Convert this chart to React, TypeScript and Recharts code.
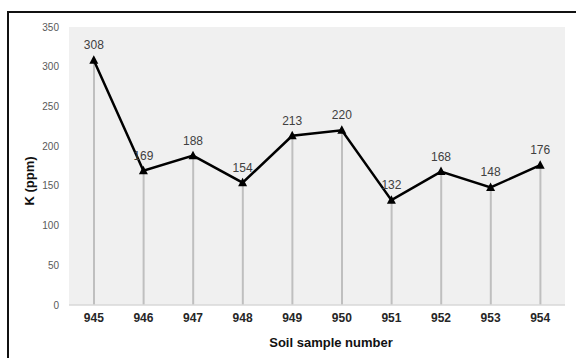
import {
  Bar,
  CartesianGrid,
  ComposedChart,
  Label,
  LabelList,
  Line,
  XAxis,
  YAxis,
} from "recharts";

const samples = ["945", "946", "947", "948", "949", "950", "951", "952", "953", "954"];
const potassium = [308, 169, 188, 154, 213, 220, 132, 168, 148, 176];
const yTicks = [0, 50, 100, 150, 200, 250, 300, 350];

const data = samples.map((sample, i) => ({ sample, k: potassium[i] }));

const FONT = "'Liberation Sans', Arial, sans-serif";

function Triangle(props: { cx?: number; cy?: number; index?: number }) {
  const { cx, cy, index } = props;
  if (cx == null || cy == null) return null;
  return (
    <path
      key={`tri-${index}`}
      d={`M${cx},${cy - 5} L${cx + 4.5},${cy + 3.5} L${cx - 4.5},${cy + 3.5} Z`}
      fill="#000"
    />
  );
}

export default function App() {
  return (
    <div
      style={{
        position: "absolute",
        left: 0,
        top: 0,
        width: 576,
        height: 358,
        overflow: "hidden",
        background: "#fff",
      }}
    >
      <div
        style={{
          position: "absolute",
          left: 7,
          top: 11,
          width: 600,
          height: 400,
          borderTop: "2px solid #111",
          borderLeft: "2px solid #111",
        }}
      />
      <ComposedChart
        width={576}
        height={358}
        data={data}
        margin={{ top: 27, right: 11, left: 0, bottom: 0 }}
        style={{ position: "absolute", left: 0, top: 0 }}
      >
        {/* shaded plot area, no grid lines */}
        <CartesianGrid
          fill="#f0f0f0"
          fillOpacity={1}
          horizontal={false}
          vertical={false}
        />
        <XAxis
          dataKey="sample"
          height={53}
          tickLine={false}
          axisLine={{ stroke: "#d9d9d9", strokeWidth: 1.5 }}
          tick={{ fontSize: 12, fontWeight: 700, fill: "#262626", fontFamily: FONT }}
        >
          <Label
            content={({ viewBox }: any) => (
              <text
                x={viewBox.x + viewBox.width / 2 + 14}
                y={viewBox.y + 42}
                textAnchor="middle"
                fontSize={13}
                fontWeight={700}
                fill="#111"
                fontFamily={FONT}
              >
                Soil sample number
              </text>
            )}
          />
        </XAxis>
        <YAxis
          width={69}
          domain={[0, 350]}
          ticks={yTicks}
          tickLine={false}
          axisLine={false}
          tickMargin={4}
          tick={{ fontSize: 10, fill: "#595959", fontFamily: FONT }}
        >
          <Label
            content={({ viewBox }: any) => {
              const x = viewBox.x + 29;
              const y = viewBox.y + viewBox.height / 2 + 15;
              return (
                <text
                  x={x}
                  y={y}
                  transform={`rotate(-90 ${x} ${y})`}
                  textAnchor="middle"
                  dominantBaseline="central"
                  fontSize={13}
                  fontWeight={700}
                  fill="#111"
                  fontFamily={FONT}
                >
                  K (ppm)
                </text>
              );
            }}
          />
        </YAxis>
        {/* thin drop lines from each point down to the axis */}
        <Bar dataKey="k" barSize={2} fill="#bfbfbf" isAnimationActive={false} />
        <Line
          dataKey="k"
          type="linear"
          stroke="#000"
          strokeWidth={2.5}
          dot={<Triangle />}
          activeDot={false}
          isAnimationActive={false}
        >
          <LabelList
            dataKey="k"
            position="top"
            offset={11}
            fontSize={12}
            fill="#404040"
            fontFamily={FONT}
          />
        </Line>
      </ComposedChart>
    </div>
  );
}
